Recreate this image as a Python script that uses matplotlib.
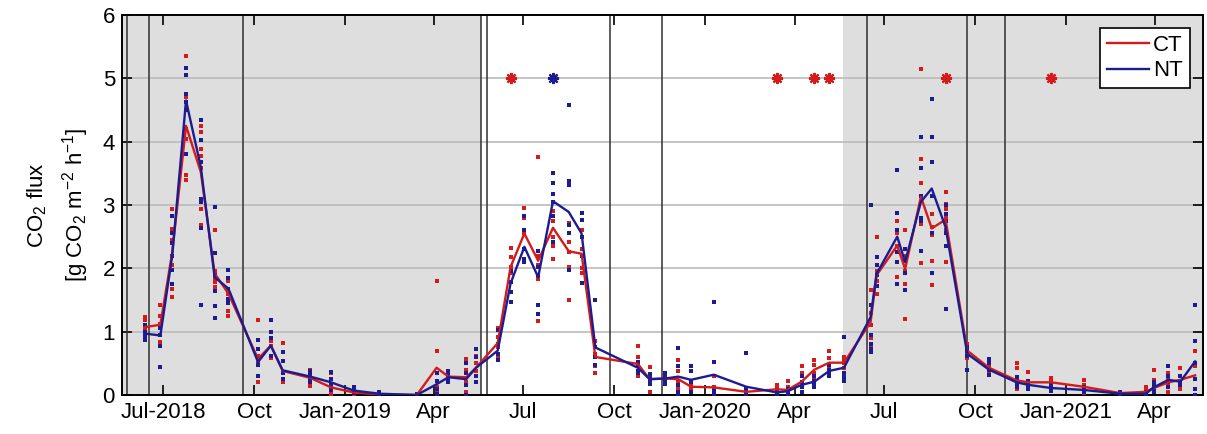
import matplotlib
matplotlib.use('Agg')
import matplotlib.pyplot as plt
import numpy as np

plt.rcParams['font.family'] = ['Liberation Sans', 'DejaVu Sans']
plt.rcParams['mathtext.fontset'] = 'custom'
plt.rcParams['mathtext.rm'] = 'Liberation Sans'
plt.rcParams['mathtext.it'] = 'Liberation Sans'
plt.rcParams['mathtext.default'] = 'regular'

# sampling dates and treatment means
sample_dates = ['2018-06-12', '2018-06-28', '2018-07-10', '2018-07-24', '2018-08-08', '2018-08-22',
                '2018-09-05', '2018-10-05', '2018-10-18', '2018-10-30', '2018-11-27', '2018-12-18',
                '2019-01-10', '2019-02-05', '2019-03-15', '2019-04-04', '2019-04-16', '2019-05-04',
                '2019-05-14', '2019-06-05', '2019-06-18', '2019-07-02', '2019-07-16', '2019-07-31',
                '2019-08-16', '2019-08-29', '2019-09-12', '2019-10-25', '2019-11-06', '2019-11-22',
                '2019-12-05', '2019-12-18', '2020-01-10', '2020-02-12', '2020-03-14', '2020-03-25',
                '2020-04-08', '2020-04-21', '2020-05-06', '2020-05-21', '2020-06-17', '2020-06-23',
                '2020-07-14', '2020-07-22', '2020-08-07', '2020-08-18', '2020-09-01', '2020-09-23',
                '2020-10-15', '2020-11-12', '2020-11-24', '2020-12-17', '2021-01-19', '2021-02-25',
                '2021-03-23', '2021-03-31', '2021-04-15', '2021-04-27', '2021-05-12']

ct_mean = [1.07, 1.11, 2.25, 4.25, 3.52, 1.92, 1.60, 0.57, 0.78, 0.38, 0.27, 0.12,
           0.04, 0.01, 0.00, 0.43, 0.29, 0.28, 0.43, 0.82, 2.02, 2.55, 2.12, 2.64,
           2.27, 2.23, 0.60, 0.49, 0.25, 0.26, 0.25, 0.13, 0.12, 0.05, 0.09, 0.08,
           0.21, 0.40, 0.51, 0.51, 1.15, 1.89, 2.36, 1.99, 3.13, 2.63, 2.77, 0.70,
           0.43, 0.23, 0.20, 0.20, 0.13, 0.03, 0.05, 0.11, 0.20, 0.24, 0.31]

nt_mean = [0.97, 0.94, 2.20, 4.65, 3.60, 1.86, 1.68, 0.52, 0.78, 0.39, 0.29, 0.20,
           0.07, 0.02, 0.00, 0.17, 0.28, 0.25, 0.43, 0.70, 1.76, 2.34, 1.86, 3.06,
           2.89, 2.55, 0.75, 0.43, 0.25, 0.26, 0.29, 0.24, 0.32, 0.13, 0.04, 0.06,
           0.16, 0.21, 0.38, 0.43, 1.23, 1.91, 2.50, 2.10, 3.05, 3.26, 2.65, 0.65,
           0.40, 0.20, 0.16, 0.11, 0.08, 0.02, 0.02, 0.12, 0.24, 0.21, 0.53]

# individual chamber measurements
ct_reps = [[1.23, 1.18, 1.05, 0.88], [1.42, 1.25, 1.12, 0.84], [2.94, 2.62, 2.45, 2.05, 1.68, 1.55],
           [5.35, 4.70, 4.20, 4.05, 3.47, 3.40], [4.25, 4.15, 3.88, 3.77, 3.58, 2.94, 2.68],
           [2.60, 1.95, 1.85, 1.78, 1.70], [1.80, 1.60, 1.47, 1.33, 1.24], [1.19, 0.62, 0.50, 0.20],
           [0.85, 0.78, 0.62, 0.58], [0.82, 0.35, 0.25, 0.20], [0.40, 0.32, 0.22, 0.14],
           [0.35, 0.18, 0.05, 0.02], [0.08, 0.05, 0.03, 0.02], [0.03, 0.01, 0.00], [0.01, 0.00],
           [1.80, 0.70, 0.12, 0.05, 0.02, 0.00], [0.35, 0.30, 0.25, 0.20], [0.57, 0.40, 0.20, 0.05],
           [0.62, 0.50, 0.38, 0.20], [1.05, 0.92, 0.75, 0.60], [2.32, 2.18, 2.02, 1.92],
           [2.95, 2.80, 2.55, 2.30, 2.12], [3.76, 2.20, 2.05, 1.83, 1.17], [2.90, 2.75, 2.50, 2.35, 2.15],
           [2.72, 2.42, 2.25, 2.02, 1.50], [2.60, 2.30, 2.00, 1.92], [0.85, 0.65, 0.45, 0.35],
           [0.78, 0.60, 0.45, 0.30], [0.44, 0.30, 0.20, 0.04], [0.35, 0.30, 0.22, 0.18],
           [0.55, 0.38, 0.20, 0.10], [0.20, 0.15, 0.10, 0.05], [0.30, 0.12, 0.05, 0.00],
           [0.10, 0.05, 0.03, 0.00], [0.15, 0.10, 0.08, 0.03], [0.22, 0.12, 0.05, 0.00],
           [0.46, 0.35, 0.20, 0.05], [0.55, 0.48, 0.35, 0.25], [0.69, 0.58, 0.45, 0.35],
           [0.60, 0.55, 0.50, 0.42], [1.65, 1.30, 1.10, 0.90, 0.75], [2.50, 1.95, 1.80, 1.60],
           [2.75, 2.55, 2.35, 2.10, 1.87], [2.60, 2.20, 1.95, 1.76, 1.20], [5.15, 3.73, 3.35, 3.15, 2.70, 2.08],
           [2.85, 2.65, 2.52, 2.12, 1.73], [3.20, 3.02, 2.94, 2.80, 2.60, 2.10], [0.80, 0.75, 0.65, 0.58],
           [0.50, 0.45, 0.40, 0.35], [0.50, 0.43, 0.20, 0.10], [0.37, 0.22, 0.15, 0.10],
           [0.27, 0.22, 0.18, 0.12], [0.24, 0.15, 0.10, 0.03], [0.05, 0.03, 0.01],
           [0.13, 0.06, 0.02, 0.00], [0.40, 0.23, 0.12, 0.05], [0.35, 0.25, 0.15, 0.05],
           [0.42, 0.30, 0.20, 0.10], [0.70, 0.45, 0.25, 0.10, 0.00]]

nt_reps = [[1.10, 1.00, 0.93, 0.87], [1.05, 0.95, 0.78, 0.44], [2.82, 2.55, 2.40, 2.20, 1.98, 1.76],
           [5.17, 5.06, 4.75, 4.62, 4.50, 3.80], [4.34, 4.03, 3.68, 3.10, 3.05, 2.63, 1.42],
           [2.97, 2.24, 1.90, 1.64, 1.40, 1.22], [1.97, 1.85, 1.68, 1.52, 1.45], [0.87, 0.72, 0.48, 0.30],
           [1.18, 1.00, 0.90, 0.62], [0.68, 0.54, 0.35, 0.25], [0.38, 0.32, 0.26, 0.20],
           [0.36, 0.25, 0.15, 0.08], [0.12, 0.08, 0.05, 0.03], [0.04, 0.02, 0.00], [0.01, 0.00],
           [0.35, 0.22, 0.10, 0.02], [0.38, 0.32, 0.25, 0.20], [0.50, 0.35, 0.15, 0.00],
           [0.73, 0.60, 0.30, 0.20], [1.02, 0.80, 0.65, 0.55], [1.95, 1.78, 1.62, 1.47],
           [2.82, 2.60, 2.30, 2.15, 2.10], [2.27, 2.02, 1.90, 1.42, 1.28], [3.50, 3.35, 3.18, 3.05, 2.82, 2.42],
           [4.58, 3.38, 3.32, 2.68, 2.55, 1.98], [2.87, 2.76, 2.50, 2.20, 1.77], [1.50, 0.75, 0.60, 0.48],
           [0.52, 0.45, 0.38, 0.35], [0.33, 0.28, 0.22, 0.18], [0.35, 0.30, 0.22, 0.18],
           [0.74, 0.45, 0.15, 0.05, 0.02], [0.45, 0.38, 0.20, 0.05], [1.47, 0.52, 0.08, 0.03, 0.00, 0.00],
           [0.67, 0.10, 0.05, 0.00], [0.08, 0.05, 0.02, 0.00], [0.10, 0.06, 0.03, 0.00],
           [0.30, 0.20, 0.12, 0.05], [0.30, 0.22, 0.18, 0.12], [0.48, 0.40, 0.35, 0.30],
           [0.92, 0.35, 0.28, 0.22], [3.00, 1.42, 0.95, 0.80, 0.72, 0.68], [2.18, 2.05, 1.90, 1.72],
           [3.55, 2.88, 2.60, 2.25, 2.10, 1.75], [2.30, 2.15, 1.92, 1.65], [4.07, 3.58, 3.15, 2.80, 2.75, 2.28],
           [4.67, 4.08, 3.68, 3.15, 2.55, 1.92], [3.00, 2.85, 2.75, 2.55, 2.35, 1.35], [0.75, 0.70, 0.62, 0.40],
           [0.57, 0.50, 0.40, 0.32], [0.28, 0.22, 0.18, 0.12], [0.22, 0.17, 0.14, 0.10],
           [0.15, 0.12, 0.10, 0.07], [0.12, 0.08, 0.06, 0.04], [0.05, 0.02, 0.00],
           [0.04, 0.02, 0.00, 0.00], [0.20, 0.15, 0.10, 0.05], [0.46, 0.30, 0.20, 0.12],
           [0.30, 0.22, 0.18, 0.15], [1.42, 0.85, 0.50, 0.25, 0.10, 0.00]]

# significance markers (drawn at 5)
sig_ct_dates = ['2019-06-18', '2020-03-14', '2020-04-21', '2020-05-06', '2020-09-01', '2020-12-17']
sig_nt_dates = ['2019-07-31']
sig_level = 5

# management events and shaded periods
event_dates = ['2018-05-25', '2018-06-16', '2018-09-20', '2019-05-19', '2019-05-25',
               '2019-09-27', '2019-11-19', '2020-06-13', '2020-09-23', '2020-10-31']
shade_periods = [('2018-05-20', '2019-05-19'), ('2020-05-20', '2021-05-20')]

tick_dates = ['2018-07-01', '2018-10-01', '2019-01-01', '2019-04-01', '2019-07-01', '2019-10-01',
              '2020-01-01', '2020-04-01', '2020-07-01', '2020-10-01', '2021-01-01', '2021-04-01']
tick_labels = ['Jul-2018', 'Oct', 'Jan-2019', 'Apr', 'Jul', 'Oct',
               'Jan-2020', 'Apr', 'Jul', 'Oct', 'Jan-2021', 'Apr']

RED = '#D41A1A'
BLUE = '#1C1C90'

d = lambda s: np.datetime64(s)
dates = np.array([d(s) for s in sample_dates])

fig = plt.figure(figsize=(12.07, 4.34), dpi=100)
ax = fig.add_axes([0.101, 0.0899, 0.8957, 0.8755])

for a, b in shade_periods:
    ax.axvspan(d(a), d(b), color='#DEDEDE', lw=0, zorder=0)

for y in range(1, 6):
    ax.axhline(y, color='#BBBBBB', lw=1.2, zorder=1)

for e in event_dates:
    ax.axvline(d(e), color='#303030', lw=1.1, zorder=2)

for reps, col in [(ct_reps, RED), (nt_reps, BLUE)]:
    xs, ys = [], []
    for dt, r in zip(dates, reps):
        xs += [dt] * len(r)
        ys += r
    ax.plot(xs, ys, 's', color=col, ms=2.3, mew=0, zorder=3)

ax.plot(dates, ct_mean, color=RED, lw=1.7, zorder=4, label='CT')
ax.plot(dates, nt_mean, color=BLUE, lw=1.7, zorder=5, label='NT')

ax.plot([d(s) for s in sig_ct_dates], [sig_level] * len(sig_ct_dates), ls='none',
        marker=(8, 2, 0), ms=8, mew=1.6, color=RED, zorder=6)
ax.plot([d(s) for s in sig_nt_dates], [sig_level] * len(sig_nt_dates), ls='none',
        marker=(8, 2, 0), ms=8, mew=1.6, color=BLUE, zorder=6)

ax.set_xlim(d('2018-05-20'), d('2021-05-20'))
ax.set_ylim(0, 6)
ax.set_yticks(range(0, 7))
ax.set_xticks([d(s) for s in tick_dates])
ax.set_xticklabels(tick_labels)
ax.tick_params(direction='in', length=7, width=1.2, labelsize=16, top=True, right=True, pad=5)
for sp in ax.spines.values():
    sp.set_linewidth(1.4)

ax.set_ylabel('CO$_2$ flux\n[g CO$_2$ m$^{-2}$ h$^{-1}$]', fontsize=16, linespacing=1.5, labelpad=8)

leg = ax.legend(loc='upper right', fontsize=16, frameon=True, fancybox=False, edgecolor='black',
                framealpha=1, borderaxespad=0.6, handlelength=1.9, handletextpad=0.2,
                borderpad=0.3, labelspacing=0.2)
leg.get_frame().set_linewidth(1.2)

fig.savefig('out.png', dpi=100)
